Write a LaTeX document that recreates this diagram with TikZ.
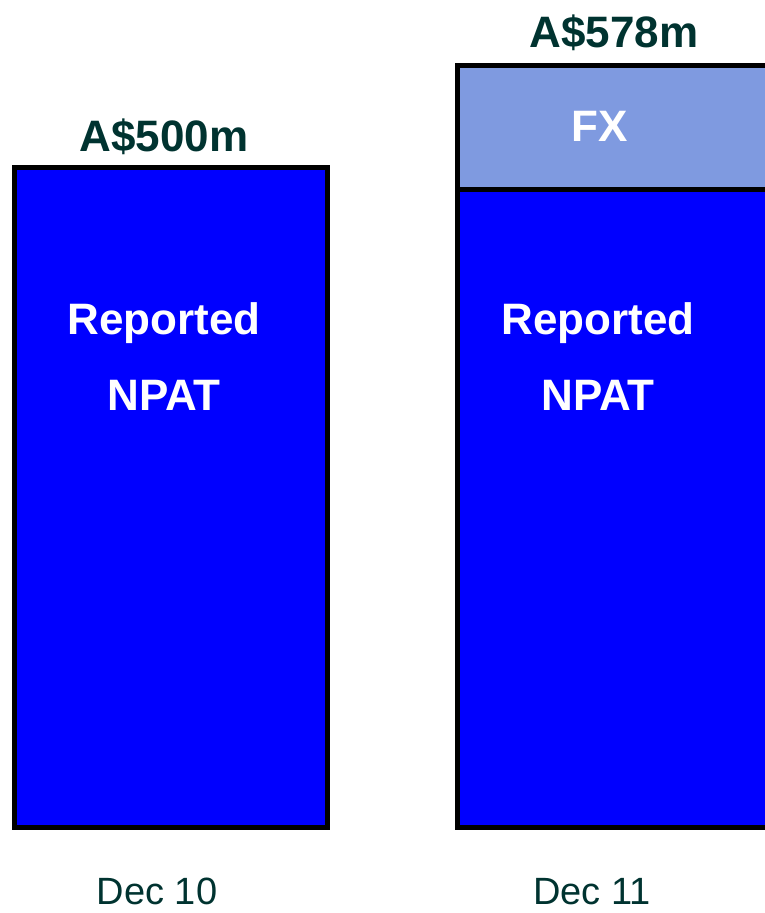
\documentclass[tikz,border=0pt]{standalone}
\usepackage{fontspec}
\setmainfont{Liberation Sans}
\definecolor{barblue}{RGB}{0,0,255}
\definecolor{fxblue}{RGB}{127,154,224}
\definecolor{txtgreen}{RGB}{0,51,48}
\begin{document}
\begin{tikzpicture}[x=1pt,y=-1pt,
  bar/.style={draw=black,line width=5pt},
  inlabel/.style={text=white,font=\fontsize{44}{44}\selectfont\bfseries,anchor=base,inner sep=0pt},
  toplabel/.style={text=txtgreen,font=\fontsize{44}{44}\selectfont\bfseries,anchor=base,inner sep=0pt},
  datelabel/.style={text=txtgreen,font=\fontsize{38}{38}\selectfont,anchor=base,inner sep=0pt}]
\useasboundingbox (0,0) rectangle (765,913);
\clip (0,0) rectangle (765,913);
% left bar
\draw[bar,fill=barblue] (14.5,167.5) rectangle (327.5,827.5);
% right bar
\draw[bar,fill=barblue] (457.5,189) rectangle (790,827.5);
\draw[bar,fill=fxblue] (457.5,65.5) rectangle (790,189);
\node[toplabel] (v1) at (164,151) {A\$500m};
\node[toplabel] (v2) at (614,47) {A\$578m};
\node[inlabel] (r1) at (164,334) {Reported};
\node[inlabel] (n1) at (164,410) {NPAT};
\node[inlabel] (r2) at (598,334) {Reported};
\node[inlabel] (n2) at (598,410) {NPAT};
\node[inlabel] (fx) at (600,141) {FX};
\node[datelabel] (d1) at (157,904) {Dec 10};
\node[datelabel] (d2) at (592,904) {Dec 11};
\end{tikzpicture}
\end{document}
